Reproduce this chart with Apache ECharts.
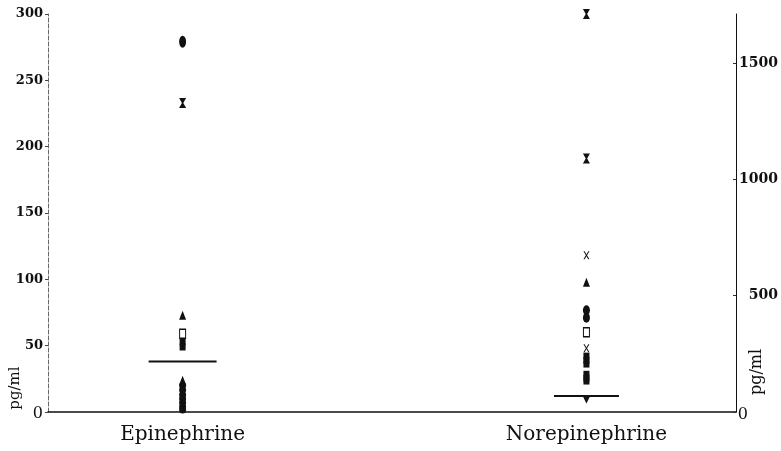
<!DOCTYPE html>
<html>
<head>
<meta charset="utf-8">
<script src="https://cdn.jsdelivr.net/npm/echarts@6/dist/echarts.min.js"></script>
<style>html,body{margin:0;padding:0;background:#fff}#c{width:781px;height:451px}</style>
</head>
<body>
<div id="c"></div>
<script>
// ---- data ----
const categories = ['Epinephrine', 'Norepinephrine'];
const leftTicks = [0, 50, 100, 150, 200, 250, 300];      // pg/ml (epinephrine)
const rightTicks = [0, 500, 1000, 1500];                 // pg/ml (norepinephrine)

// Epinephrine (left axis)
const epiEllipse = [279];
const epiHourglass = [233];
const epiTriangle = [73, 24];
const epiOpenSquare = [59];
const epiSquare = [53, 49];
const epiCircle = [20, 16.5, 13, 10, 7, 4, 1.5];
const epiMedian = [38];

// Norepinephrine (right axis)
const norHourglass = [1710, 1089];
const norCross = [673, 274];
const norTriangle = [557];
const norCircle = [437, 405];
const norOpenSquare = [343];
const norSquare = [240, 222, 206, 162, 146, 133];
const norDownTriangle = [52];
const norMedian = [69];

// ---- layout helpers ----
const slotCount = 47;
const catSlot = [9, 36];
const axisSlots = [];
for (let i = 0; i < slotCount; i++) {
  const k = catSlot.indexOf(i);
  axisSlots.push(k >= 0 ? categories[k] : ' '.repeat(i + 1));
}

const HOUR = 'path://M0,0L10,0L6,5L10,10L0,10L4,5Z';
const XMARK = 'path://M0,0L2,0L5,4L8,0L10,0L6,5L10,10L8,10L5,6L2,10L0,10L4,5Z';

function sc(cat, yIdx, values, symbol, size, opts) {
  opts = opts || {};
  return {
    type: 'scatter',
    yAxisIndex: yIdx,
    data: values.map(v => [cat, v]),
    symbol: symbol,
    symbolSize: size,
    symbolRotate: opts.rotate || 0,
    itemStyle: {
      color: opts.open ? '#fff' : '#111',
      borderColor: '#111',
      borderWidth: opts.open ? 1.2 : 0,
      opacity: 1
    },
    silent: true,
    z: opts.z || 3
  };
}

const chart = echarts.init(document.getElementById('c'), null, {renderer: 'canvas'});
chart.setOption({
  animation: false,
  backgroundColor: '#fff',
  grid: {left: 48, right: 43, top: 14, bottom: 39},
  xAxis: {
    type: 'category',
    data: axisSlots,
    boundaryGap: false,
    axisLine: {lineStyle: {color: '#111', width: 1.5}},
    axisTick: {show: false},
    axisLabel: {
      interval: 0,
      margin: 13,
      color: '#111',
      fontFamily: 'DejaVu Serif',
      fontSize: 20,
      formatter: v => (categories.indexOf(v) >= 0 ? v : '')
    },
    splitLine: {show: false}
  },
  yAxis: [
    {
      type: 'value', min: 0, max: 300, interval: 50,
      position: 'left',
      axisLine: {show: true, lineStyle: {color: '#666', width: 1, type: 'dashed'}},
      axisTick: {show: true, length: 3, lineStyle: {color: '#444'}},
      splitLine: {show: false},
      axisLabel: {
        margin: 5,
        color: '#111',
        fontFamily: 'DejaVu Serif',
        fontWeight: 'bold',
        fontSize: 13,
        formatter: v => (leftTicks.indexOf(v) < 0 ? '' : (v === 0 ? '{z|0}' : String(v))),
        rich: {z: {fontFamily: 'DejaVu Serif', fontWeight: 'normal', fontSize: 16, color: '#111', padding: [4, 0, 0, 0]}}
      }
    },
    {
      type: 'value', min: 0, max: 1710, interval: 500,
      position: 'right',
      axisLine: {show: true, lineStyle: {color: '#111', width: 1}},
      axisTick: {show: true, inside: true, length: 3, lineStyle: {color: '#333'}},
      splitLine: {show: false},
      axisLabel: {
        margin: 42,
        align: 'right',
        color: '#111',
        fontFamily: 'DejaVu Serif',
        fontWeight: 'bold',
        fontSize: 14,
        showMaxLabel: false,
        formatter: v => (rightTicks.indexOf(v) < 0 ? '' : (v === 0 ? '{z|0}' : String(v))),
        rich: {z: {fontFamily: 'DejaVu Serif', fontWeight: 'normal', fontSize: 16, color: '#111', padding: [6, 30, 0, 0]}}
      }
    }
  ],
  graphic: [
    {type: 'text', x: 15, y: 388, rotation: Math.PI / 2,
     style: {text: 'pg/ml', fill: '#111', font: '15px "DejaVu Serif"', textAlign: 'center', textVerticalAlign: 'middle'}},
    {type: 'text', x: 757, y: 372, rotation: Math.PI / 2,
     style: {text: 'pg/ml', fill: '#111', font: '16px "DejaVu Serif"', textAlign: 'center', textVerticalAlign: 'middle'}}
  ],
  series: [
    // Epinephrine
    sc(categories[0], 0, epiEllipse, 'circle', [7, 12]),
    sc(categories[0], 0, epiHourglass, HOUR, [7, 10]),
    sc(categories[0], 0, epiTriangle, 'triangle', [7, 9]),
    sc(categories[0], 0, epiOpenSquare, 'rect', [6, 9], {open: true}),
    sc(categories[0], 0, epiSquare, 'rect', [6, 7]),
    sc(categories[0], 0, epiCircle, 'circle', [7, 7]),
    sc(categories[0], 0, epiMedian, 'rect', [68, 2], {z: 2}),
    // Norepinephrine
    sc(categories[1], 1, norHourglass, HOUR, [7, 10]),
    sc(categories[1], 1, norCross, XMARK, [6, 8]),
    sc(categories[1], 1, norTriangle, 'triangle', [7, 9]),
    sc(categories[1], 1, norCircle, 'circle', [7, 10]),
    sc(categories[1], 1, norOpenSquare, 'rect', [6, 9], {open: true}),
    sc(categories[1], 1, norSquare, 'rect', [6, 7]),
    sc(categories[1], 1, norDownTriangle, 'triangle', [7, 7], {rotate: 180}),
    sc(categories[1], 1, norMedian, 'rect', [65, 2], {z: 2})
  ]
});
</script>
</body>
</html>
